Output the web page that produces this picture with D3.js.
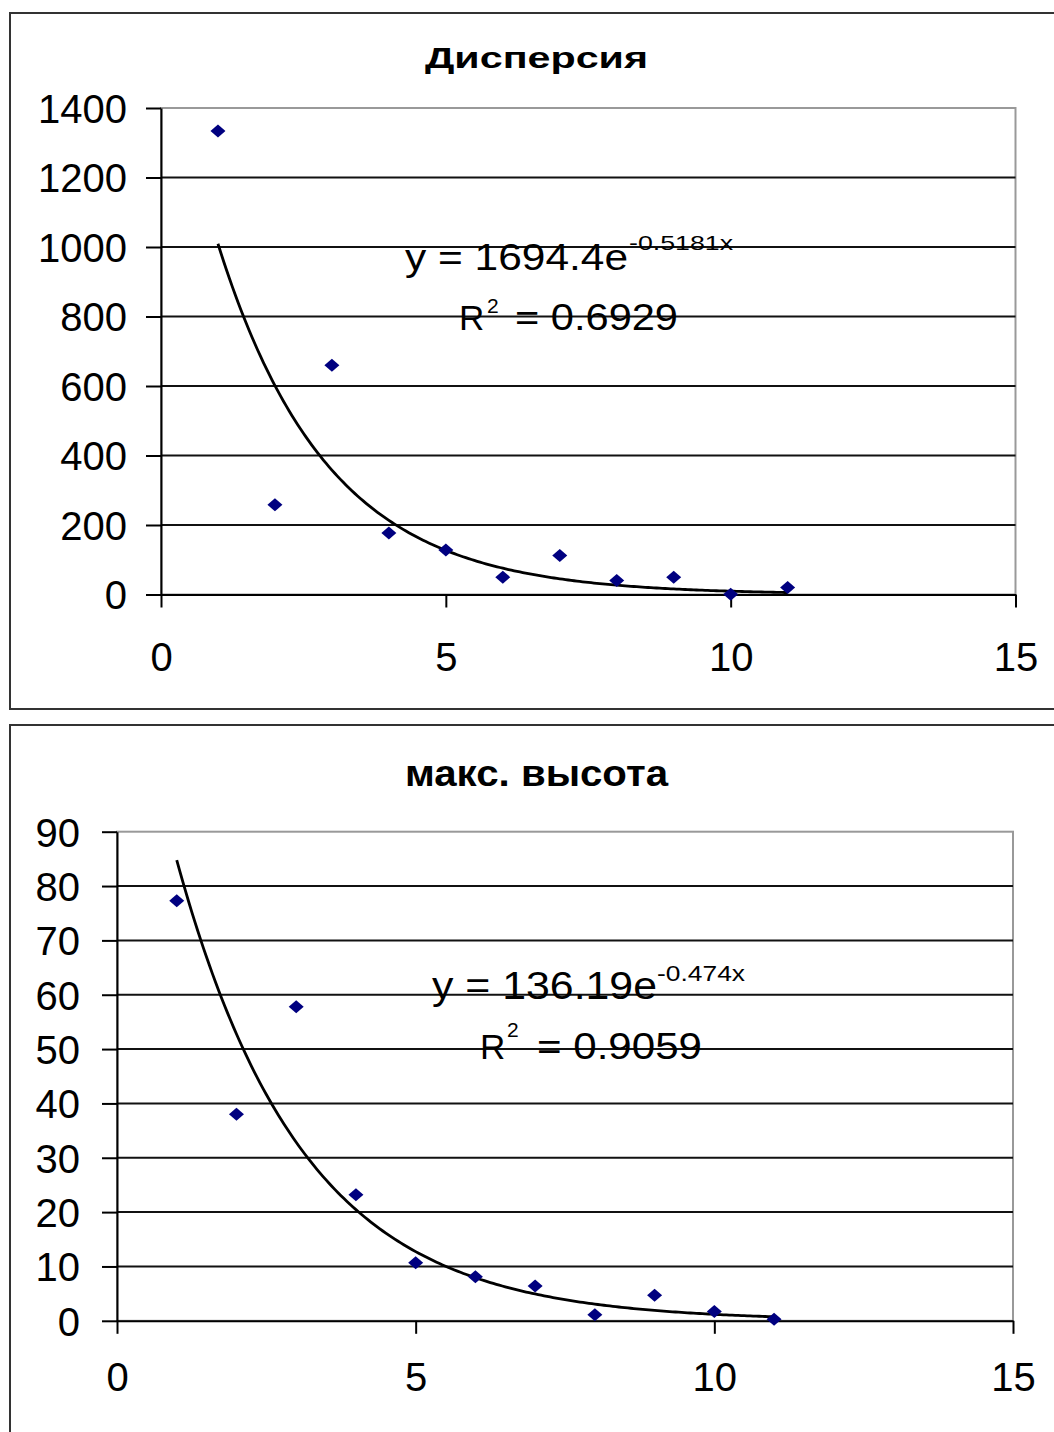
<!DOCTYPE html>
<html><head><meta charset="utf-8">
<script src="https://cdn.jsdelivr.net/npm/d3@7"></script>
<style>
html,body{margin:0;padding:0;background:#fff;}
svg{display:block;}
text{font-family:"Liberation Sans",Arial,sans-serif;fill:#000;}
</style></head>
<body>
<svg id="c" width="1054" height="1432"></svg>
<script>
// ---- data ----
const xValues = [1, 2, 3, 4, 5, 6, 7, 8, 9, 10, 11];
const dispersionValues = [1334, 258, 660, 177, 128, 50, 112, 40, 50, 1, 20];
const maxHeightValues = [77.3, 38.0, 57.8, 23.2, 10.7, 8.1, 6.4, 1.1, 4.7, 1.7, 0.3];
const titles = ["Дисперсия", "макс. высота"];
const xTickValues = [0, 5, 10, 15];
const yTicksTop = [0, 200, 400, 600, 800, 1000, 1200, 1400];
const yTicksBottom = [0, 10, 20, 30, 40, 50, 60, 70, 80, 90];
const trendTop = {a: 1694.4, b: -0.5181};
const trendBottom = {a: 136.19, b: -0.474};
const eqTop = ["y = 1694.4e", "-0.5181x", "R", "2", "= 0.6929"];
const eqBottom = ["y = 136.19e", "-0.474x", "R", "2", "= 0.9059"];

const svg = d3.select("#c");

function drawChart(cfg) {
  const g = svg.append("g");
  g.append("rect").attr("x", cfg.frame.x).attr("y", cfg.frame.y)
    .attr("width", cfg.frame.w).attr("height", cfg.frame.h)
    .attr("fill", "none").attr("stroke", "#333").attr("stroke-width", 2);

  const x = d3.scaleLinear().domain([0, 15]).range([cfg.plot.left, cfg.plot.right]);
  const y = d3.scaleLinear().domain(cfg.yDomain).range([cfg.plot.bottom, cfg.plot.top]);

  g.append("rect").attr("x", cfg.plot.left).attr("y", cfg.plot.top)
    .attr("width", cfg.plot.right - cfg.plot.left).attr("height", cfg.plot.bottom - cfg.plot.top)
    .attr("fill", "none").attr("stroke", "#999").attr("stroke-width", 2);

  g.selectAll(".grid").data(cfg.yTicks.filter(t => t !== cfg.yDomain[1] && t !== 0)).enter()
    .append("line")
    .attr("x1", cfg.plot.left).attr("x2", cfg.plot.right)
    .attr("y1", d => y(d)).attr("y2", d => y(d))
    .attr("stroke", "#111").attr("stroke-width", 2);

  const yAxis = d3.axisLeft(y).tickValues(cfg.yTicks).tickFormat(d3.format("d"))
    .tickSize(15).tickSizeOuter(0).tickPadding(cfg.yPad);
  const ya = g.append("g").attr("transform", `translate(${cfg.plot.left},0)`).call(yAxis);
  ya.select(".domain").attr("stroke", "#000").attr("stroke-width", 2);
  ya.selectAll(".tick line").attr("stroke", "#000").attr("stroke-width", 2);
  ya.selectAll(".tick text").attr("font-size", 40).attr("font-family", "Liberation Sans, Arial, sans-serif")
    .attr("fill", "#000").attr("dy", "0.36em");

  const xAxis = d3.axisBottom(x).tickValues(xTickValues).tickFormat(d3.format("d"))
    .tickSize(13).tickSizeOuter(0).tickPadding(cfg.xPad);
  const xa = g.append("g").attr("transform", `translate(0,${cfg.plot.bottom})`).call(xAxis);
  xa.select(".domain").attr("stroke", "#000").attr("stroke-width", 2);
  xa.selectAll(".tick line").attr("stroke", "#000").attr("stroke-width", 2);
  xa.selectAll(".tick text").attr("font-size", 40).attr("font-family", "Liberation Sans, Arial, sans-serif")
    .attr("fill", "#000").attr("dy", "0.71em");

  g.append("text").attr("x", cfg.title.x).attr("y", cfg.title.y)
    .attr("font-size", cfg.title.size).attr("font-weight", "bold")
    .attr("textLength", cfg.title.w).attr("lengthAdjust", "spacingAndGlyphs")
    .text(cfg.title.text);

  const tr = d3.range(1, 11.001, 0.05);
  const line = d3.line().x(d => x(d)).y(d => y(cfg.trend.a * Math.exp(cfg.trend.b * d)));
  g.append("path").datum(tr).attr("d", line).attr("fill", "none")
    .attr("stroke", "#000").attr("stroke-width", 2.8);

  g.selectAll(".pt").data(cfg.xs.map((d, i) => [d, cfg.ys[i]])).enter()
    .append("path")
    .attr("d", "M0,-6.5L7.5,0L0,6.5L-7.5,0Z")
    .attr("transform", d => `translate(${x(d[0])},${y(d[1])})`)
    .attr("fill", "#000080");

  cfg.eq.forEach((e, i) => {
    const t = g.append("text").attr("x", e.x).attr("y", e.y).attr("font-size", e.size)
      .text(cfg.eqText[i]);
    if (e.w) t.attr("textLength", e.w).attr("lengthAdjust", "spacingAndGlyphs");
  });
}

drawChart({
  frame: {x: 10, y: 13, w: 1060, h: 696},
  plot: {left: 161, right: 1015.5, top: 108, bottom: 594.5},
  yDomain: [0, 1400], yTicks: yTicksTop, yPad: 19, xPad: 35,
  title: {text: titles[0], x: 425, y: 68, size: 29, w: 223},
  trend: trendTop, xs: xValues, ys: dispersionValues,
  eqText: eqTop,
  eq: [
    {x: 405, y: 270, size: 36, w: 223},
    {x: 629, y: 250, size: 21, w: 104},
    {x: 459, y: 330, size: 35},
    {x: 487, y: 312.5, size: 21},
    {x: 515, y: 330, size: 36, w: 163}
  ]
});

drawChart({
  frame: {x: 10, y: 725, w: 1060, h: 720},
  plot: {left: 117, right: 1013, top: 831.7, bottom: 1320.8},
  yDomain: [0, 90], yTicks: yTicksBottom, yPad: 22, xPad: 29,
  title: {text: titles[1], x: 405, y: 786, size: 36, w: 263},
  trend: trendBottom, xs: xValues, ys: maxHeightValues,
  eqText: eqBottom,
  eq: [
    {x: 432, y: 999, size: 39, w: 225},
    {x: 657, y: 981, size: 22, w: 88},
    {x: 480, y: 1058.5, size: 35},
    {x: 507, y: 1037, size: 21},
    {x: 537, y: 1058.5, size: 36, w: 165}
  ]
});
</script>
</body></html>
